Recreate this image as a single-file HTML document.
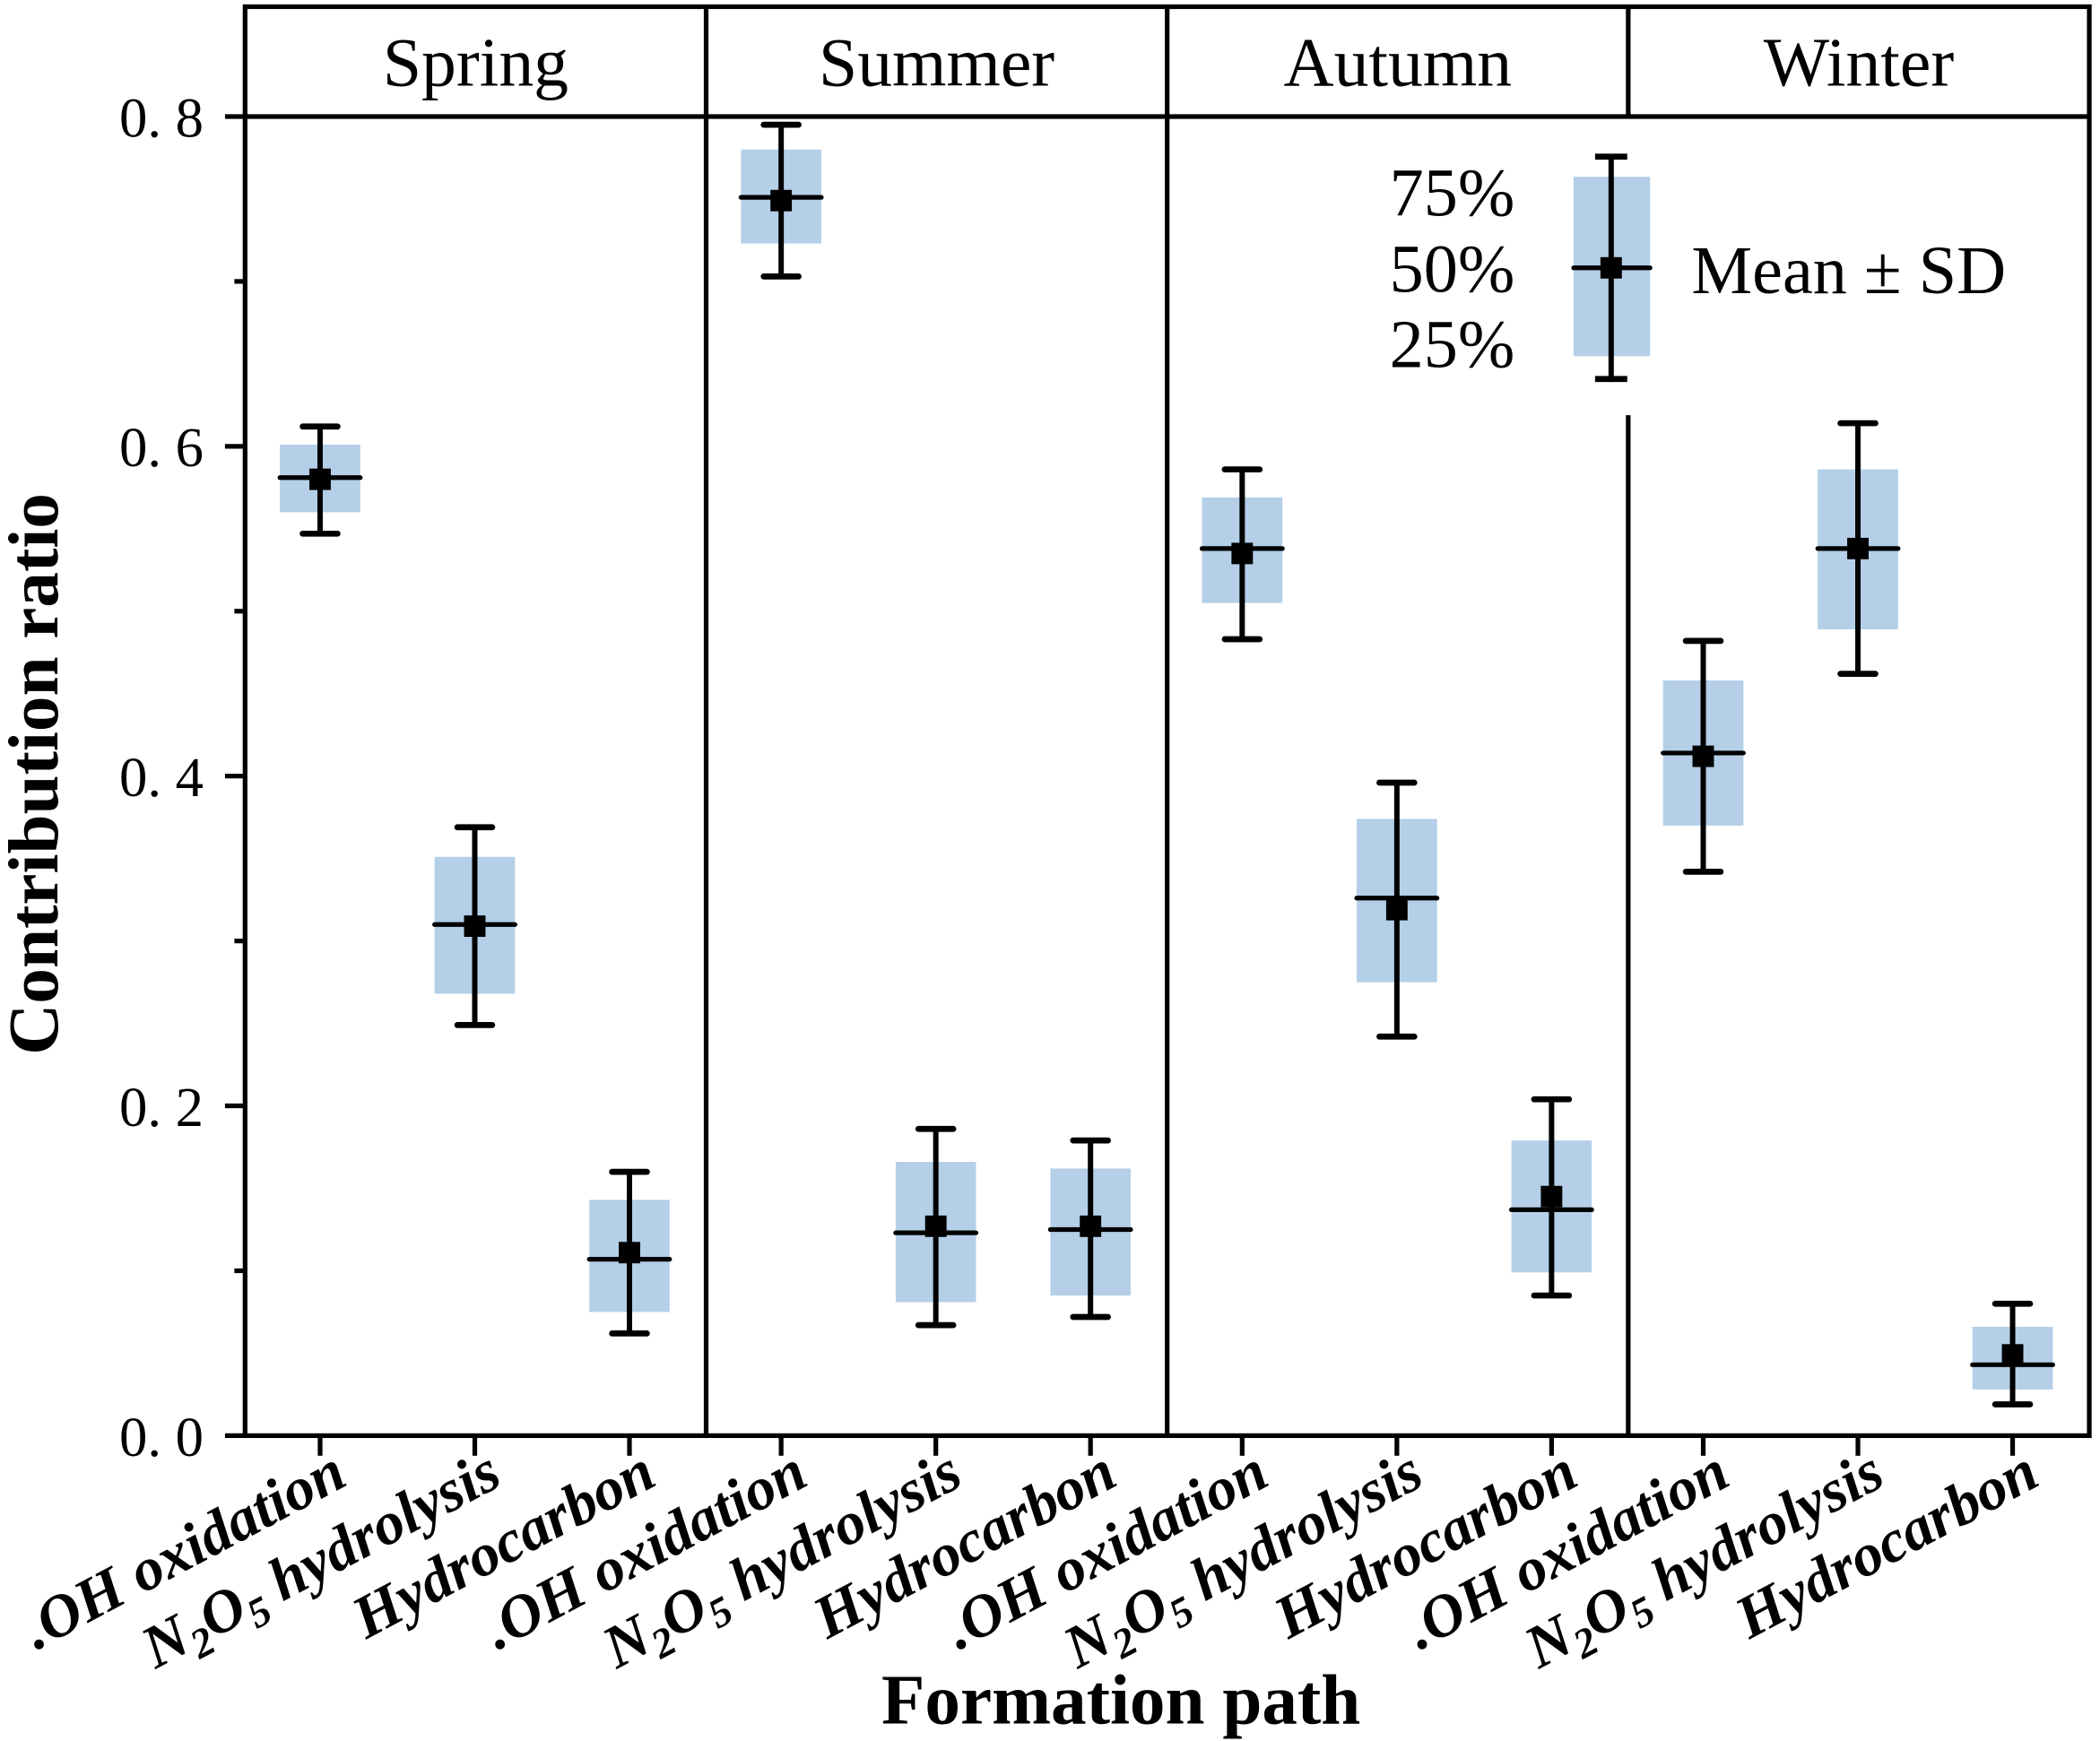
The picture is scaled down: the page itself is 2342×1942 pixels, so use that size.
<!DOCTYPE html>
<html><head><meta charset="utf-8"><style>
html,body{margin:0;padding:0;background:#fff;}
svg{display:block;font-family:"Liberation Serif",serif;}
</style></head><body>
<svg id="chart" width="2342" height="1942" viewBox="0 0 1568 1300" preserveAspectRatio="none" xmlns="http://www.w3.org/2000/svg">
<g id="g"></g>
</svg>
<script>
const seasons = ["Spring","Summer","Autumn","Winter"];
const paths = ["·OH oxidation","N2O5 hydrolysis","Hydrocarbon"];
const q25    = [0.560,0.268,0.075, 0.723,0.081,0.085, 0.505,0.275,0.099, 0.370,0.489,0.028];
const q75    = [0.601,0.351,0.143, 0.780,0.166,0.162, 0.569,0.374,0.179, 0.458,0.586,0.066];
const median = [0.581,0.310,0.107, 0.751,0.123,0.125, 0.538,0.326,0.137, 0.414,0.538,0.043];
const mean   = [0.580,0.309,0.111, 0.749,0.127,0.127, 0.535,0.319,0.145, 0.412,0.538,0.049];
const sdLow  = [0.547,0.249,0.062, 0.703,0.067,0.072, 0.483,0.242,0.085, 0.342,0.462,0.019];
const sdHigh = [0.612,0.369,0.160, 0.795,0.186,0.179, 0.586,0.396,0.204, 0.482,0.614,0.080];
const yTicks = [0,0.2,0.4,0.6,0.8];
const yTickLabels = ["0. 0","0. 2","0. 4","0. 6","0. 8"];
const yMinor = [0.1,0.3,0.5,0.7];

const NS="http://www.w3.org/2000/svg";
const g=document.getElementById('g');
const L=183,R=1560,T=5,HB=87,B=1072;
const panelW=(R-L)/4;
const yS=v=>B-(v/0.8)*(B-HB);
const xS=i=>L+Math.floor(i/3)*panelW+56+(i%3)*115.5;
function el(tag,attrs,parent){const e=document.createElementNS(NS,tag);for(const k in attrs)e.setAttribute(k,attrs[k]);(parent||g).appendChild(e);return e;}

for(let i=0;i<mean.length;i++){
  const x=xS(i);
  const grp=el('g',{});
  
  
  el('rect',{x:x-30,y:yS(q75[i]),width:60,height:yS(q25[i])-yS(q75[i]),fill:'#b4cfe7'},grp);
  el('line',{x1:x,x2:x,y1:yS(sdHigh[i]),y2:yS(sdLow[i]),stroke:'#000','stroke-width':4},grp);
  el('line',{x1:x-13,x2:x+13,y1:yS(sdHigh[i]),y2:yS(sdHigh[i]),stroke:'#000','stroke-width':4.5,'stroke-linecap':'round'},grp);
  el('line',{x1:x-13,x2:x+13,y1:yS(sdLow[i]),y2:yS(sdLow[i]),stroke:'#000','stroke-width':4.5,'stroke-linecap':'round'},grp);
  el('line',{x1:x-30,x2:x+30,y1:yS(median[i]),y2:yS(median[i]),stroke:'#000','stroke-width':3.5,'stroke-linecap':'round'},grp);
  el('rect',{x:x-8,y:yS(mean[i])-8,width:16,height:16,fill:'#000'},grp);
}

const lg=el('g',{});


el('rect',{x:1005,y:92,width:540,height:218,fill:'#fff'},lg);
el('rect',{x:1175,y:132,width:57,height:134,fill:'#b4cfe7'},lg);
el('line',{x1:1203,x2:1203,y1:117,y2:283,stroke:'#000','stroke-width':4},lg);
el('line',{x1:1191,x2:1215,y1:117,y2:117,stroke:'#000','stroke-width':4.5},lg);
el('line',{x1:1191,x2:1215,y1:283,y2:283,stroke:'#000','stroke-width':4.5},lg);
el('line',{x1:1175,x2:1232,y1:200,y2:200,stroke:'#000','stroke-width':3.5,'stroke-linecap':'round'},lg);
el('rect',{x:1195,y:192,width:16,height:16,fill:'#000'},lg);
[["75%",161],["50%",218],["25%",274]].forEach(([t,y])=>{const e=el('text',{x:1131,y:y,'text-anchor':'end','font-size':51},lg);e.textContent=t;});
const ml=el('text',{x:1263,y:219,'font-size':51},lg);ml.textContent="Mean ± SD";

el('rect',{x:L,y:T,width:R-L,height:B-T,fill:'none',stroke:'#000','stroke-width':3.5});
el('line',{x1:L,x2:R,y1:HB,y2:HB,stroke:'#000','stroke-width':3.5});
for(let p=1;p<4;p++){
  const x=L+p*panelW;
  if(p===3){el('line',{x1:x,x2:x,y1:T,y2:HB,stroke:'#000','stroke-width':3.5});el('line',{x1:x,x2:x,y1:310,y2:B,stroke:'#000','stroke-width':3.5});}
  else el('line',{x1:x,x2:x,y1:T,y2:B,stroke:'#000','stroke-width':3.5});
}
seasons.forEach((s,p)=>{
  const t=el('text',{x:L+p*panelW+panelW/2,y:64,'text-anchor':'middle','font-size':52});
  
  
  t.textContent=s;
});

yTicks.forEach((v,i)=>{
  el('line',{x1:L-15,x2:L,y1:yS(v),y2:yS(v),stroke:'#000','stroke-width':3.5});
  const t=el('text',{x:152,y:yS(v)+15,'text-anchor':'end','font-size':42});
  
  
  t.textContent=yTickLabels[i];
});
yMinor.forEach(v=>el('line',{x1:L-8,x2:L,y1:yS(v),y2:yS(v),stroke:'#000','stroke-width':3.5}));
const yt=el('text',{transform:'translate(43,578) rotate(-90)','text-anchor':'middle','font-size':53,'font-weight':'bold'});


yt.textContent="Contribution ratio";

for(let i=0;i<12;i++){
  const x=xS(i);
  el('line',{x1:x,x2:x,y1:B,y2:B+15,stroke:'#000','stroke-width':3.5});
  const t=el('text',{transform:`translate(${x+22},${B+36}) rotate(-28)`,'text-anchor':'end','font-size':45,'font-weight':'bold','font-style':'italic'});
  
  
  const k=i%3;
  if(k===1){
    t.appendChild(document.createTextNode('N'));
    const s1=el('tspan',{'font-size':31,dy:9},t);s1.textContent='2';
    const s2=el('tspan',{dy:-9},t);s2.textContent='O';
    const s3=el('tspan',{'font-size':31,dy:9},t);s3.textContent='5';
    const s4=el('tspan',{dy:-9},t);s4.textContent=' hydrolysis';
  } else t.textContent = k===0 ? ".OH oxidation" : "Hydrocarbon";
}
const xt=el('text',{x:837,y:1287,'text-anchor':'middle','font-size':53,'font-weight':'bold'});


xt.textContent="Formation path";
</script>
</body></html>
